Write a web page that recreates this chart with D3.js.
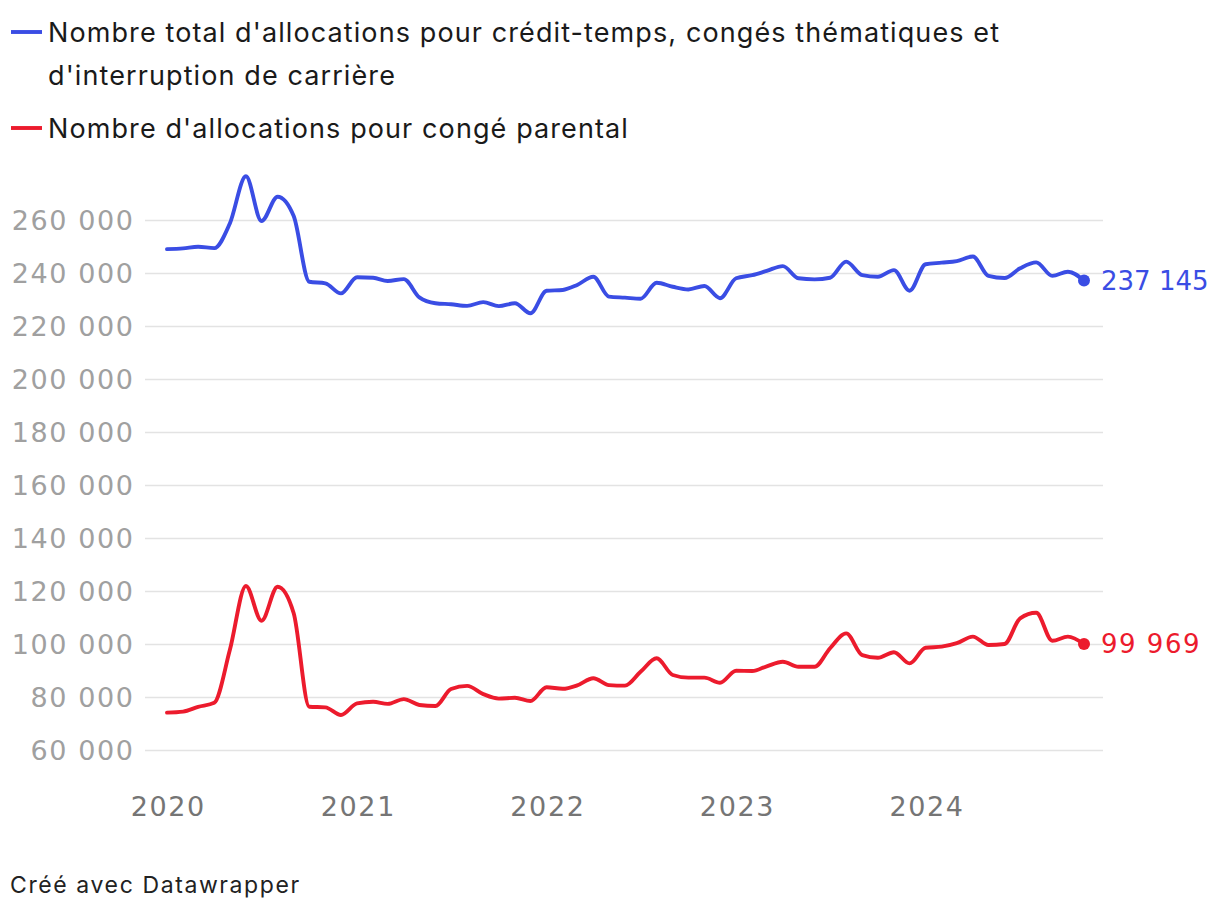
<!DOCTYPE html>
<html><head><meta charset="utf-8">
<script src="https://cdn.jsdelivr.net/npm/d3@7"></script>
<style>
body{margin:0;background:#fff;}
svg{font-family:Inter, "Noto Sans", sans-serif;}
.num{font-family:"DejaVu Sans", Inter, sans-serif;}
</style></head><body>
<svg id="c" width="1220" height="914"></svg>
<script>
const startMonth = "2020-01";
const seriesNames = ["Nombre total d'allocations pour crédit-temps, congés thématiques et d'interruption de carrière", "Nombre d'allocations pour congé parental"];
const totalValues = [249000,249300,249900,249400,258700,276500,259600,268800,261500,236700,236100,232300,238400,238200,237000,237700,230800,228600,228200,227600,229000,227500,228600,224800,233300,233600,235500,238600,231100,230700,230300,236300,234800,233800,235100,230500,238000,239200,240800,242600,238000,237600,238200,244300,239200,238600,241100,233300,243300,243900,244500,246200,238900,238100,241800,244000,238900,240500,237145];
const parentalValues = [74100,74500,76300,77800,97700,121900,108800,121600,111600,76300,76100,73200,77600,78200,77400,79200,77000,76600,83000,84200,81100,79400,79700,78500,83700,83100,84400,87100,84500,84300,89500,94600,88300,87300,87300,85400,89900,89800,91600,93300,91400,91400,98400,104000,95800,94800,96900,92700,98600,99000,100300,102800,99600,100000,109700,111800,101200,102800,99969];
const yTicks = [60000,80000,100000,120000,140000,160000,180000,200000,220000,240000,260000];
const xTickYears = [2020,2021,2022,2023,2024];
const colors = ["#3a4de4","#ec1b2d"];

const svg = d3.select("#c");
const t0 = d3.timeParse("%Y-%m")(startMonth);
const dates = totalValues.map((_, i) => d3.timeMonth.offset(t0, i));
const x = d3.scaleTime().domain([dates[0], dates[dates.length-1]]).range([167, 1084]);
const y = d3.scaleLinear().domain([60000, 260000]).range([750, 220]);
const fmt = v => d3.format(",")(v).replace(/,/g, " ");

const gy = svg.append("g").attr("transform","translate(145,0)")
  .call(d3.axisLeft(y).tickValues(yTicks).tickSize(-(1103-145)).tickFormat(fmt).tickPadding(12));
gy.select(".domain").remove();
gy.selectAll(".tick line").attr("stroke","#e3e3e3").attr("stroke-width",1.5);
gy.selectAll(".tick text").attr("class","num").attr("fill","#a0a0a0").attr("font-size",27)
  .attr("letter-spacing","1.6px").attr("x",-10.5).attr("dy","0.36em");

const gx = svg.append("g").attr("transform","translate(0,770)")
  .call(d3.axisBottom(x).tickValues(xTickYears.map(yr => new Date(yr,0,1))).tickFormat(d3.timeFormat("%Y")).tickSize(0).tickPadding(0));
gx.select(".domain").remove();
gx.selectAll(".tick text").attr("class","num").attr("fill","#757575").attr("font-size",27)
  .attr("letter-spacing","1.6px").attr("dx","0.8").attr("dy","1.7em");

const line = d3.line().x((d,i)=>x(dates[i])).y(d=>y(d)).curve(d3.curveMonotoneX);
[totalValues, parentalValues].forEach((vals, k) => {
  svg.append("path").datum(vals).attr("d", line).attr("fill","none")
    .attr("stroke", colors[k]).attr("stroke-width",3.9).attr("stroke-linejoin","round").attr("stroke-linecap","round");
  const last = vals.length-1;
  svg.append("circle").attr("cx", x(dates[last])).attr("cy", y(vals[last])).attr("r",6).attr("fill",colors[k]);
  svg.append("text").attr("class","num").attr("x", x(dates[last])+17).attr("y", y(vals[last])).attr("dy","0.36em")
    .attr("fill",colors[k]).attr("font-size",26).attr("letter-spacing", k===1 ? "1.5px" : "0px").text(fmt(vals[last]));
});

const legend = [
  {c:colors[0], lines:["Nombre total d'allocations pour crédit-temps, congés thématiques et","d'interruption de carrière"], y:32},
  {c:colors[1], lines:["Nombre d'allocations pour congé parental"], y:128}
];
legend.forEach(l => {
  svg.append("line").attr("x1",11).attr("x2",42).attr("y1",l.y).attr("y2",l.y).attr("stroke",l.c).attr("stroke-width",3.9);
  const t = svg.append("text").attr("x",48).attr("y",l.y).attr("font-size",27).attr("letter-spacing","1.1px").attr("fill","#1a1a1a");
  l.lines.forEach((s,i)=> t.append("tspan").attr("x",48).attr("dy", i===0 ? "0.36em" : "1.6em").text(s));
});

svg.append("text").attr("x",10).attr("y",893).attr("font-size",23).attr("letter-spacing","1.6px").attr("fill","#222").text("Créé avec Datawrapper");
</script>
</body></html>
